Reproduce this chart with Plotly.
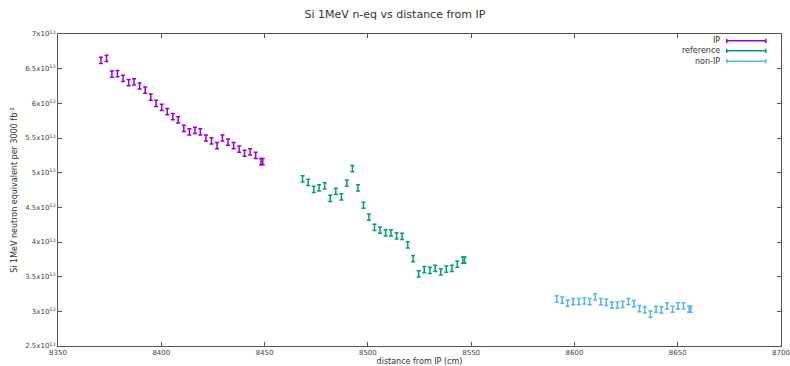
import plotly.graph_objects as go

# ---- data (values in 1e13 units) ----
ip_x = [8370.8, 8373.5, 8376.1, 8378.8, 8381.5, 8384.2, 8386.8, 8389.5, 8392.2, 8394.9,
        8397.5, 8400.2, 8402.9, 8405.6, 8408.2, 8410.9, 8413.6, 8416.3, 8418.9, 8421.6,
        8424.3, 8427.0, 8429.6, 8432.3, 8435.0, 8437.7, 8440.3, 8443.0, 8445.7, 8448.3, 8449.1]
ip_y = [6.62, 6.65, 6.42, 6.43, 6.36, 6.30, 6.31, 6.25, 6.19, 6.09,
        6.00, 5.94, 5.88, 5.81, 5.76, 5.64, 5.59, 5.61, 5.59, 5.50,
        5.46, 5.39, 5.50, 5.44, 5.39, 5.34, 5.28, 5.30, 5.25, 5.16, 5.16]

ref_x = [8468.4, 8471.1, 8473.8, 8476.4, 8479.1, 8481.8, 8484.5, 8487.2, 8489.8, 8492.5,
         8495.2, 8497.9, 8500.5, 8503.2, 8505.9, 8508.6, 8511.2, 8513.9, 8516.6, 8519.3,
         8521.9, 8524.6, 8527.3, 8530.0, 8532.6, 8535.3, 8538.0, 8540.7, 8543.3, 8546.0, 8546.8]
ref_y = [4.91, 4.86, 4.76, 4.78, 4.81, 4.63, 4.73, 4.65, 4.85, 5.06,
         4.78, 4.53, 4.36, 4.21, 4.17, 4.13, 4.13, 4.09, 4.08, 3.96,
         3.76, 3.54, 3.60, 3.59, 3.62, 3.57, 3.61, 3.62, 3.68, 3.74, 3.74]

nonip_x = [8591.4, 8594.1, 8596.7, 8599.4, 8602.1, 8604.8, 8607.4, 8610.1, 8612.8, 8615.4,
           8618.1, 8620.8, 8623.4, 8626.1, 8628.8, 8631.5, 8634.1, 8636.8, 8639.5, 8642.1,
           8644.8, 8647.5, 8650.1, 8652.8, 8655.5, 8656.3]
nonip_y = [3.18, 3.16, 3.12, 3.14, 3.14, 3.15, 3.14, 3.21, 3.14, 3.13,
           3.09, 3.09, 3.10, 3.14, 3.11, 3.04, 3.02, 2.96, 3.03, 3.02,
           3.08, 3.03, 3.08, 3.08, 3.03, 3.03]

ERR = 0.045  # error half-height (1e13)
SCALE = 1e13

series_names = ["IP", "reference", "non-IP"]
series_colors = ["#9400d3", "#009e73", "#56b4e9"]

y_tickvals = [2.5, 3, 3.5, 4, 4.5, 5, 5.5, 6, 6.5, 7]
y_ticktext = ["2.5x10<sup>13</sup>", "3x10<sup>13</sup>", "3.5x10<sup>13</sup>", "4x10<sup>13</sup>",
              "4.5x10<sup>13</sup>", "5x10<sup>13</sup>", "5.5x10<sup>13</sup>", "6x10<sup>13</sup>",
              "6.5x10<sup>13</sup>", "7x10<sup>13</sup>"]
x_tickvals = [8350, 8400, 8450, 8500, 8550, 8600, 8650, 8700]

FONT = "DejaVu Sans"

fig = go.Figure()
for name, col, xs, ys in zip(series_names, series_colors,
                             [ip_x, ref_x, nonip_x], [ip_y, ref_y, nonip_y]):
    fig.add_trace(go.Scatter(
        x=xs, y=[v * SCALE for v in ys], mode="markers", name=name,
        marker=dict(size=1, color=col, opacity=0),
        error_y=dict(type="constant", value=ERR * SCALE, color=col, thickness=1.5, width=2),
        showlegend=False,
    ))

axis_common = dict(showline=True, linecolor="#555", linewidth=1, mirror="ticks",
                   ticks="inside", ticklen=4, tickcolor="#555", showgrid=False, zeroline=False,
                   automargin=False,
                   tickfont=dict(family=FONT, size=7, color="#444"))

fig.update_xaxes(range=[8350, 8700], tickvals=x_tickvals,
                 title=dict(text="distance from IP (cm)", font=dict(family=FONT, size=8, color="#333"), standoff=4),
                 **axis_common)
fig.update_yaxes(range=[2.5 * SCALE, 7 * SCALE], tickvals=[v * SCALE for v in y_tickvals], ticktext=y_ticktext,
                 title=dict(text="Si 1MeV neutron equivalent per 3000 fb<sup>-1</sup>",
                            font=dict(family=FONT, size=8, color="#333"), standoff=6),
                 **axis_common)

# gnuplot-style key: text then sample line on the right
key_y = [0.978, 0.946, 0.913]
for name, col, ky in zip(series_names, series_colors, key_y):
    fig.add_annotation(x=0.918, y=ky, xref="paper", yref="paper", text=name, showarrow=False,
                       xanchor="right", yanchor="middle", font=dict(family=FONT, size=8, color="#333"))
    fig.add_shape(type="line", xref="paper", yref="paper", x0=0.925, x1=0.979, y0=ky, y1=ky,
                  line=dict(color=col, width=1.5))
    for xe in (0.925, 0.979):
        fig.add_shape(type="line", xref="paper", yref="paper", x0=xe, x1=xe, y0=ky - 0.007, y1=ky + 0.007,
                      line=dict(color=col, width=1.5))

fig.update_layout(
    width=790, height=366,
    margin=dict(l=58, r=9, t=34, b=20),
    paper_bgcolor="white", plot_bgcolor="white",
    title=dict(text="Si 1MeV n-eq vs distance from IP", x=0.5, xanchor="center", y=0.96, yanchor="middle",
               font=dict(family=FONT, size=11, color="#333")),
    font=dict(family=FONT),
)

fig.write_html("out.html", config={"displayModeBar": False},
               post_script="document.body.style.margin='0';document.body.style.overflow='hidden';")
